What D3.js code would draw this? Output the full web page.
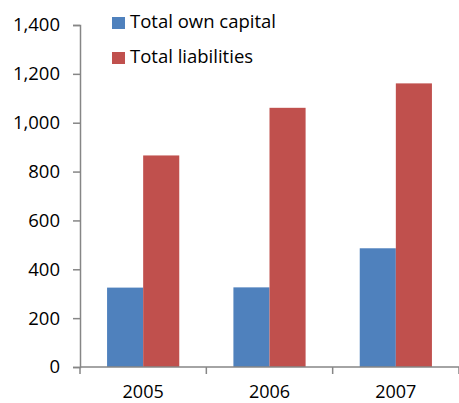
<!DOCTYPE html>
<html>
<head>
<meta charset="utf-8">
<script src="https://cdn.jsdelivr.net/npm/d3@7"></script>
<style>
  html, body { margin: 0; padding: 0; background: #fff; }
  svg { display: block; }
  text { font-family: "Open Sans", "Noto Sans", sans-serif; fill: #000; }
</style>
</head>
<body>
<svg id="chart" width="459" height="403"></svg>
<script>
// Balance sheet totals by year
const years = ["2005", "2006", "2007"];
const seriesNames = ["Total own capital", "Total liabilities"];
const ownCapital = [325, 326, 486];
const liabilities = [866, 1061, 1161];
const yTicks = [0, 200, 400, 600, 800, 1000, 1200, 1400];
const colors = ["#4F81BD", "#C0504D"];

const seriesValues = [ownCapital, liabilities];

const svg = d3.select("#chart");
const plot = { left: 80, right: 459, top: 25, bottom: 367 };

const x0 = d3.scaleBand().domain(years).range([plot.left, plot.right]).padding(0);
const x1 = d3.scaleBand().domain(seriesNames).range([0, x0.bandwidth()])
  .paddingInner(0).paddingOuter(0.75);
const y = d3.scaleLinear().domain([0, 1400]).range([plot.bottom, plot.top]);

const fmt = d3.format(",");

// Bars
const groups = svg.append("g").selectAll("g")
  .data(years)
  .join("g")
  .attr("transform", d => `translate(${x0(d)},0)`);

groups.selectAll("rect")
  .data((d, i) => seriesNames.map((s, j) => ({ s, v: seriesValues[j][i], c: colors[j] })))
  .join("rect")
  .attr("x", d => x1(d.s))
  .attr("width", x1.bandwidth())
  .attr("y", d => y(d.v))
  .attr("height", d => y(0) - y(d.v))
  .attr("fill", d => d.c);

// Y axis
const yAxis = d3.axisLeft(y).tickValues(yTicks).tickFormat(fmt).tickSize(7).tickPadding(13);
const gy = svg.append("g").attr("transform", `translate(${plot.left},0)`).call(yAxis);
gy.select(".domain").attr("stroke", "#868686").attr("stroke-width", 1.5);
gy.selectAll(".tick line").attr("stroke", "#868686").attr("stroke-width", 1.5);
gy.selectAll(".tick text")
  .style("font-family", '"Open Sans", sans-serif')
  .style("font-size", "18.5px")
  .attr("fill", "#000");

// X axis with ticks at category boundaries
const gx = svg.append("g").attr("transform", `translate(0,${plot.bottom})`);
gx.append("line")
  .attr("x1", plot.left).attr("x2", plot.right)
  .attr("stroke", "#868686").attr("stroke-width", 1.5);
const boundaries = years.map(d => x0(d)).concat([x0(years[years.length - 1]) + x0.bandwidth()]);
gx.selectAll("line.tk")
  .data(boundaries)
  .join("line")
  .attr("class", "tk")
  .attr("x1", d => d).attr("x2", d => d)
  .attr("y1", 0).attr("y2", 7)
  .attr("stroke", "#868686").attr("stroke-width", 1.5);
gx.selectAll("text")
  .data(years)
  .join("text")
  .attr("x", d => x0(d) + x0.bandwidth() / 2)
  .attr("y", 31)
  .attr("text-anchor", "middle")
  .style("font-size", "18px")
  .text(d => d);

// Legend
const legend = svg.append("g").selectAll("g")
  .data(seriesNames)
  .join("g")
  .attr("transform", (d, i) => `translate(112,${17 + i * 35})`);
legend.append("rect")
  .attr("width", 13).attr("height", 12)
  .attr("fill", (d, i) => colors[i]);
legend.append("text")
  .attr("x", 18).attr("y", 11)
  .style("font-size", "18.5px")
  .text(d => d);
</script>
</body>
</html>
